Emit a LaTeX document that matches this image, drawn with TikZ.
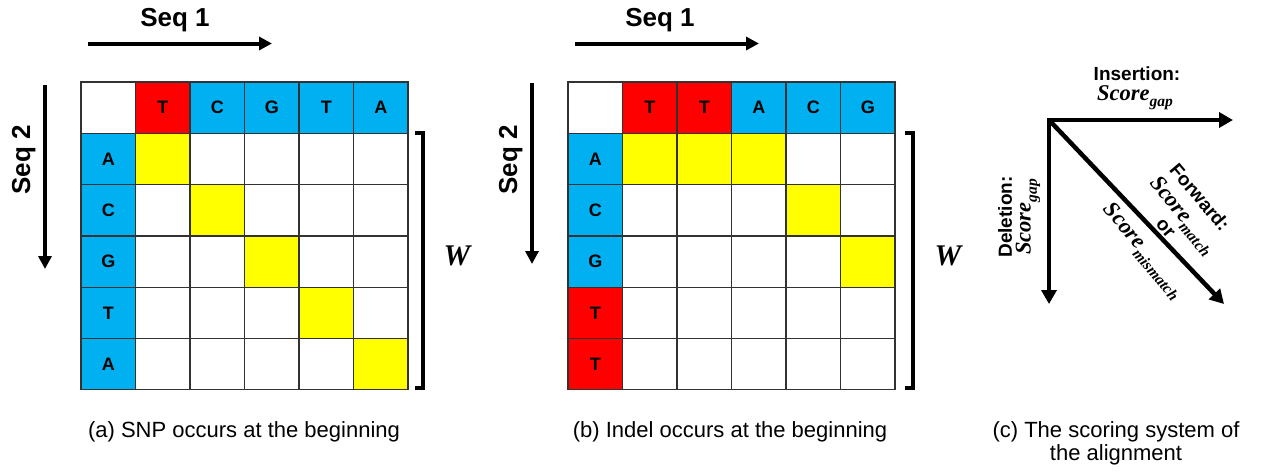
\documentclass[tikz,border=0pt]{standalone}
\usepackage{fontspec}
\newfontfamily\arialf{Liberation Sans}
\newfontfamily\serifbi{Liberation Serif}[BoldItalicFont={* Bold Italic}]
\usetikzlibrary{arrows.meta}
\definecolor{cblue}{RGB}{0,176,240}
\definecolor{cred}{RGB}{255,0,0}
\definecolor{cyel}{RGB}{255,255,0}
\definecolor{gline}{RGB}{50,50,50}
\newcommand{\scoreof}[1]{{\serifbi\bfseries\itshape Score\raisebox{-0.28em}{\fontsize{15.5}{15.5}\selectfont #1}}}
\tikzset{
  cell/.style={draw=gline, line width=1.3pt, minimum width=54.5pt, minimum height=51.3pt,
    inner sep=0pt, anchor=center, font=\arialf\bfseries\fontsize{18}{18}\selectfont},
  seqlbl/.style={font=\arialf\bfseries\fontsize{26}{26}\selectfont, inner sep=0pt},
  seqarrow/.style={line width=4pt, -{Triangle[length=13pt,width=13pt]}},
  scarrow/.style={line width=4.5pt, -{Triangle[length=14pt,width=15pt]}},
  bracket/.style={line width=3.5pt},
  wlbl/.style={font=\serifbi\bfseries\itshape\fontsize{30}{30}\selectfont, inner sep=0pt},
  caption/.style={font=\arialf\fontsize{22}{23}\selectfont, align=center, inner sep=0pt},
  sclbl/.style={font=\arialf\bfseries\fontsize{19}{19}\selectfont, inner sep=0pt},
  scmath/.style={font=\fontsize{22.5}{22.5}\selectfont, inner sep=0pt}
}
\begin{document}
\begin{tikzpicture}[x=1pt,y=-1pt]
\useasboundingbox (0,0) rectangle (1287,475);

% ---------- panel (a) ----------
\foreach \r/\c/\fc/\tx in {
 0/0/white/{},0/1/cred/T,0/2/cblue/C,0/3/cblue/G,0/4/cblue/T,0/5/cblue/A,
 1/0/cblue/A,1/1/cyel/{},1/2/white/{},1/3/white/{},1/4/white/{},1/5/white/{},
 2/0/cblue/C,2/1/white/{},2/2/cyel/{},2/3/white/{},2/4/white/{},2/5/white/{},
 3/0/cblue/G,3/1/white/{},3/2/white/{},3/3/cyel/{},3/4/white/{},3/5/white/{},
 4/0/cblue/T,4/1/white/{},4/2/white/{},4/3/white/{},4/4/cyel/{},4/5/white/{},
 5/0/cblue/A,5/1/white/{},5/2/white/{},5/3/white/{},5/4/white/{},5/5/cyel/{}}
 {\node[cell,fill=\fc] (a-\r-\c) at ({81+54.5*(\c+0.5)},{82+51.3*(\r+0.5)}) {\tx};}

\node[seqlbl, anchor=base] (aseq1) at (175,26) {Seq 1};
\coordinate (as1s) at (88,43.5);
\coordinate (as1e) at (272,43.5);
\draw[seqarrow] (as1s) -- (as1e);
\node[seqlbl, anchor=base, rotate=90] (aseq2) at (30,160) {Seq 2};
\coordinate (as2s) at (45,85);
\coordinate (as2e) at (45,269);
\draw[seqarrow] (as2s) -- (as2e);

\coordinate (abt) at (423,133);
\coordinate (abb) at (423,388);
\draw[bracket] ([xshift=-8pt]abt) -- (abt) -- (abb) -- ([xshift=-8pt]abb);
\node[wlbl] (aW) at (457,256) {W};

\node[caption] (capa) at (244,432) {(a) SNP occurs at the beginning};

% ---------- panel (b) ----------
\foreach \r/\c/\fc/\tx in {
 0/0/white/{},0/1/cred/T,0/2/cred/T,0/3/cblue/A,0/4/cblue/C,0/5/cblue/G,
 1/0/cblue/A,1/1/cyel/{},1/2/cyel/{},1/3/cyel/{},1/4/white/{},1/5/white/{},
 2/0/cblue/C,2/1/white/{},2/2/white/{},2/3/white/{},2/4/cyel/{},2/5/white/{},
 3/0/cblue/G,3/1/white/{},3/2/white/{},3/3/white/{},3/4/white/{},3/5/cyel/{},
 4/0/cred/T,4/1/white/{},4/2/white/{},4/3/white/{},4/4/white/{},4/5/white/{},
 5/0/cred/T,5/1/white/{},5/2/white/{},5/3/white/{},5/4/white/{},5/5/white/{}}
 {\node[cell,fill=\fc] (b-\r-\c) at ({568+54.5*(\c+0.5)},{82+51.3*(\r+0.5)}) {\tx};}

\node[seqlbl, anchor=base] (bseq1) at (660,26) {Seq 1};
\coordinate (bs1s) at (575,43.5);
\coordinate (bs1e) at (759,43.5);
\draw[seqarrow] (bs1s) -- (bs1e);
\node[seqlbl, anchor=base, rotate=90] (bseq2) at (517,160) {Seq 2};
\coordinate (bs2s) at (532,83);
\coordinate (bs2e) at (532,264);
\draw[seqarrow] (bs2s) -- (bs2e);

\coordinate (bbt) at (913,133);
\coordinate (bbb) at (913,388);
\draw[bracket] ([xshift=-8pt]bbt) -- (bbt) -- (bbb) -- ([xshift=-8pt]bbb);
\node[wlbl] (bW) at (948,256) {W};

\node[caption] (capb) at (730,432) {(b) Indel occurs at the beginning};

% ---------- panel (c) ----------
\coordinate (o) at (1049,120);
\coordinate (ins) at (1233,120);
\coordinate (del) at (1049,304);
\coordinate (fwd) at (1224,304);
\draw[scarrow] ([xshift=-2pt]o) -- (ins);
\draw[scarrow] ([yshift=-2pt]o) -- (del);
\draw[scarrow] (o) -- (fwd);

\node[sclbl] (insl) at (1137,74) {Insertion:};
\node[scmath] (insm) at (1135,98) {\scoreof{gap}};
\node[sclbl, rotate=90] (dell) at (1005,217) {Deletion:};
\node[scmath, rotate=90] (delm) at (1028,217) {\scoreof{gap}};
\node[sclbl, rotate=-50] (fwdl) at (1200,197) {Forward:};
\node[scmath, rotate=-50] (fwdm) at (1182,216) {\scoreof{match}};
\node[sclbl, rotate=-50] (orl) at (1165,229) {or};
\node[scmath, rotate=-50] (fwdmm) at (1143,251) {\scoreof{mismatch}};

\node[caption] (capc) at (1116,443.5) {(c) The scoring system of\\the alignment};
\end{tikzpicture}
\end{document}
